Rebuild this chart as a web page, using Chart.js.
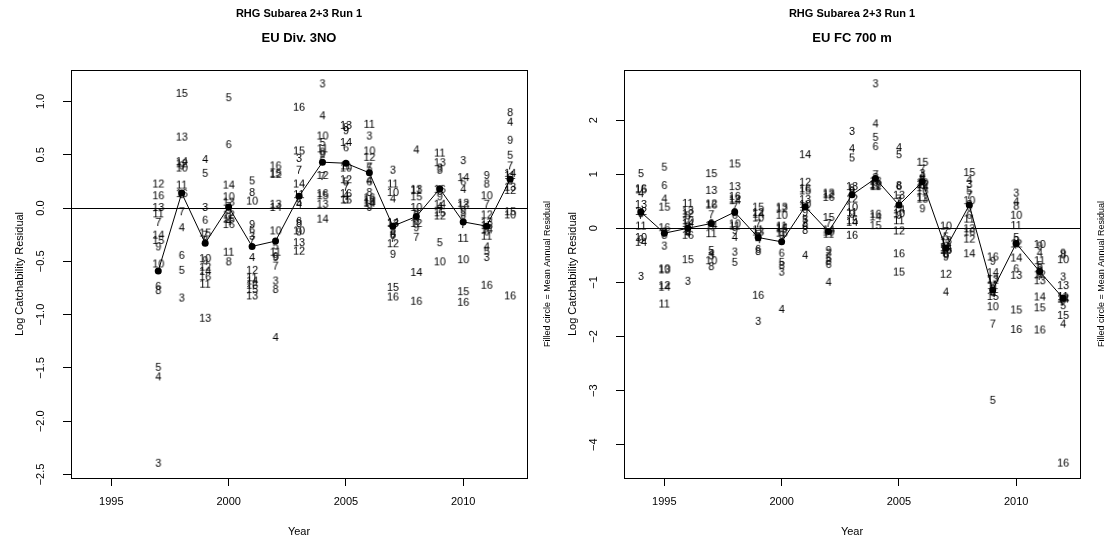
<!DOCTYPE html>
<html>
<head>
<meta charset="utf-8">
<script src="https://cdn.jsdelivr.net/npm/chart.js@4.4.1/dist/chart.umd.min.js"></script>
<style>
html, body { margin: 0; padding: 0; background: #fff; }
canvas { position: absolute; top: 0; }
#c1 { left: 0; }
#c2 { left: 553px; }
</style>
</head>
<body>
<canvas id="c1" width="553" height="545"></canvas>
<canvas id="c2" width="554" height="545"></canvas>
<script>
// ---- EU Div. 3NO ----
var years3NO = [1997, 1998, 1999, 2000, 2001, 2002, 2003, 2004, 2005, 2006, 2007, 2008, 2009, 2010, 2011, 2012];
var mean3NO  = [-0.59, 0.14, -0.33, 0.01, -0.36, -0.31, 0.11, 0.43, 0.42, 0.33, -0.17, -0.08, 0.18, -0.13, -0.17, 0.27];
// [age, residual] per year, same order as years3NO
var resid3NO = [
    [[12,0.23],[16,0.12],[13,0.01],[11,-0.05],[7,-0.13],[14,-0.25],[15,-0.30],[9,-0.36],[10,-0.52],[6,-0.73],[8,-0.77],[5,-1.49],[4,-1.58],[3,-2.39]],
    [[15,1.08],[13,0.67],[14,0.44],[12,0.42],[9,0.40],[10,0.38],[11,0.22],[16,0.14],[8,0.13],[7,-0.03],[4,-0.18],[6,-0.44],[5,-0.58],[3,-0.84]],
    [[4,0.46],[5,0.33],[3,0.01],[6,-0.11],[15,-0.23],[7,-0.25],[8,-0.30],[10,-0.47],[9,-0.49],[12,-0.55],[14,-0.59],[16,-0.64],[11,-0.71],[13,-1.03]],
    [[5,1.04],[6,0.60],[14,0.22],[10,0.11],[13,0.06],[7,0.02],[9,-0.02],[12,-0.06],[3,-0.08],[15,-0.10],[4,-0.12],[16,-0.15],[11,-0.41],[8,-0.50]],
    [[5,0.26],[8,0.15],[10,0.07],[9,-0.15],[6,-0.20],[3,-0.26],[7,-0.30],[4,-0.46],[12,-0.58],[11,-0.65],[14,-0.68],[16,-0.72],[15,-0.76],[13,-0.82]],
    [[16,0.40],[15,0.33],[12,0.32],[13,0.04],[14,0.01],[10,-0.21],[5,-0.35],[11,-0.41],[6,-0.45],[9,-0.46],[7,-0.54],[3,-0.68],[8,-0.76],[4,-1.21]],
    [[16,0.95],[15,0.54],[3,0.47],[7,0.36],[14,0.23],[11,0.13],[5,0.06],[4,0.04],[6,-0.12],[8,-0.14],[10,-0.21],[9,-0.22],[13,-0.32],[12,-0.40]],
    [[3,1.17],[4,0.87],[10,0.68],[5,0.62],[11,0.56],[8,0.53],[9,0.51],[6,0.45],[12,0.31],[7,0.30],[16,0.14],[15,0.12],[13,0.04],[14,-0.10]],
    [[13,0.78],[8,0.76],[9,0.73],[14,0.62],[6,0.57],[11,0.40],[10,0.38],[12,0.27],[5,0.25],[7,0.20],[16,0.14],[4,0.12],[3,0.08],[15,0.08]],
    [[11,0.79],[3,0.68],[10,0.54],[12,0.48],[7,0.39],[5,0.38],[4,0.26],[6,0.25],[8,0.15],[16,0.10],[13,0.08],[15,0.06],[14,0.05],[9,0.01]],
    [[3,0.36],[11,0.23],[10,0.15],[4,0.09],[14,-0.13],[13,-0.14],[5,-0.20],[6,-0.24],[8,-0.25],[7,-0.28],[12,-0.33],[9,-0.43],[15,-0.74],[16,-0.83]],
    [[4,0.55],[13,0.18],[11,0.17],[15,0.11],[10,0.01],[8,-0.04],[3,-0.06],[5,-0.10],[6,-0.12],[12,-0.14],[9,-0.18],[7,-0.27],[14,-0.60],[16,-0.87]],
    [[11,0.52],[13,0.43],[8,0.38],[3,0.36],[16,0.18],[6,0.16],[9,0.11],[14,0.04],[4,0.02],[7,-0.01],[15,-0.04],[12,-0.07],[5,-0.32],[10,-0.50]],
    [[3,0.45],[14,0.29],[6,0.25],[4,0.18],[12,0.05],[13,0.03],[9,-0.02],[5,-0.04],[8,-0.10],[7,-0.15],[11,-0.28],[10,-0.48],[15,-0.78],[16,-0.88]],
    [[9,0.31],[8,0.23],[10,0.12],[7,0.04],[12,-0.06],[13,-0.13],[15,-0.16],[14,-0.20],[6,-0.22],[11,-0.26],[4,-0.36],[5,-0.40],[3,-0.46],[16,-0.72]],
    [[8,0.90],[4,0.81],[9,0.64],[5,0.50],[7,0.40],[14,0.33],[11,0.31],[6,0.29],[3,0.26],[13,0.20],[12,0.17],[15,-0.03],[10,-0.06],[16,-0.82]]
];

// ---- EU FC 700 m ----
var yearsFC = [1994, 1995, 1996, 1997, 1998, 1999, 2000, 2001, 2002, 2003, 2004, 2005, 2006, 2007, 2008, 2009, 2010, 2011, 2012];
var meanFC  = [0.30, -0.09, 0.00, 0.09, 0.30, -0.17, -0.25, 0.40, -0.06, 0.62, 0.92, 0.43, 0.86, -0.37, 0.43, -1.14, -0.28, -0.80, -1.29];
var residFC = [
    [[5,1.02],[16,0.74],[15,0.72],[4,0.65],[13,0.45],[12,0.32],[6,0.30],[8,0.28],[7,0.25],[11,0.05],[10,-0.16],[9,-0.20],[14,-0.25],[3,-0.88]],
    [[5,1.14],[6,0.80],[4,0.55],[15,0.40],[16,0.02],[9,-0.06],[7,-0.08],[8,-0.12],[3,-0.32],[10,-0.74],[13,-0.76],[12,-1.05],[14,-1.08],[11,-1.39]],
    [[11,0.47],[13,0.33],[12,0.28],[5,0.24],[10,0.15],[14,0.10],[9,0.05],[7,0.02],[8,-0.03],[6,-0.06],[4,-0.09],[16,-0.12],[15,-0.57],[3,-0.97]],
    [[15,1.02],[13,0.71],[12,0.46],[16,0.44],[7,0.26],[6,0.10],[14,0.06],[9,0.05],[11,-0.09],[5,-0.40],[4,-0.46],[3,-0.50],[10,-0.59],[8,-0.70]],
    [[15,1.20],[13,0.78],[16,0.60],[12,0.55],[14,0.52],[7,0.40],[8,0.30],[6,0.25],[10,0.09],[11,0.05],[9,-0.03],[4,-0.16],[3,-0.43],[5,-0.62]],
    [[15,0.40],[12,0.30],[14,0.27],[10,0.20],[7,0.09],[11,-0.02],[13,-0.06],[5,-0.10],[9,-0.15],[4,-0.20],[6,-0.38],[8,-0.42],[16,-1.23],[3,-1.71]],
    [[13,0.40],[12,0.37],[10,0.25],[11,0.05],[14,0.02],[15,0.00],[16,-0.08],[9,-0.12],[7,-0.20],[6,-0.45],[5,-0.62],[8,-0.68],[3,-0.80],[4,-1.49]],
    [[14,1.37],[12,0.86],[16,0.74],[15,0.70],[13,0.54],[10,0.45],[11,0.40],[9,0.30],[5,0.17],[7,0.15],[3,0.10],[6,0.05],[8,-0.03],[4,-0.49]],
    [[13,0.66],[12,0.63],[16,0.58],[15,0.21],[7,0.10],[14,-0.02],[10,-0.06],[11,-0.10],[9,-0.40],[3,-0.45],[5,-0.55],[8,-0.60],[6,-0.66],[4,-0.99]],
    [[3,1.80],[4,1.48],[5,1.31],[13,0.78],[8,0.75],[6,0.70],[7,0.65],[12,0.55],[10,0.40],[11,0.30],[9,0.27],[15,0.15],[14,0.12],[16,-0.12]],
    [[3,2.68],[4,1.94],[5,1.69],[6,1.52],[7,1.00],[8,0.95],[13,0.88],[9,0.85],[10,0.82],[12,0.80],[11,0.78],[16,0.27],[14,0.22],[15,0.06]],
    [[4,1.50],[5,1.37],[8,0.80],[6,0.78],[13,0.62],[7,0.55],[3,0.50],[14,0.35],[10,0.28],[9,0.25],[11,0.15],[12,-0.04],[16,-0.46],[15,-0.80]],
    [[15,1.23],[7,1.10],[3,1.02],[4,0.98],[8,0.92],[5,0.90],[10,0.85],[12,0.82],[6,0.80],[14,0.76],[16,0.70],[11,0.58],[13,0.55],[9,0.37]],
    [[10,0.05],[7,-0.05],[5,-0.15],[13,-0.22],[11,-0.25],[3,-0.32],[14,-0.35],[15,-0.38],[16,-0.40],[8,-0.46],[6,-0.48],[9,-0.52],[12,-0.84],[4,-1.17]],
    [[15,1.04],[4,0.90],[3,0.82],[5,0.70],[7,0.62],[10,0.52],[8,0.45],[9,0.40],[6,0.25],[11,0.18],[13,0.00],[16,-0.06],[12,-0.19],[14,-0.46]],
    [[16,-0.52],[9,-0.60],[14,-0.81],[13,-0.93],[12,-0.95],[11,-1.05],[3,-1.10],[8,-1.12],[6,-1.18],[4,-1.20],[15,-1.25],[10,-1.44],[7,-1.76],[5,-3.17]],
    [[3,0.66],[4,0.50],[8,0.42],[10,0.25],[11,0.06],[5,-0.16],[9,-0.22],[12,-0.28],[7,-0.30],[14,-0.54],[6,-0.74],[13,-0.86],[15,-1.50],[16,-1.86]],
    [[10,-0.29],[9,-0.32],[4,-0.45],[11,-0.59],[5,-0.68],[6,-0.72],[8,-0.78],[3,-0.82],[12,-0.85],[7,-0.88],[13,-0.96],[14,-1.26],[15,-1.46],[16,-1.87]],
    [[9,-0.45],[8,-0.48],[10,-0.57],[3,-0.89],[13,-1.05],[11,-1.25],[12,-1.28],[14,-1.30],[6,-1.32],[7,-1.35],[5,-1.42],[15,-1.60],[4,-1.76],[16,-4.33]]
];

var yearTicks   = [1995, 2000, 2005, 2010];
var yTicks3NO   = [1.0, 0.5, 0.0, -0.5, -1.0, -1.5, -2.0, -2.5];
var yTicksFC    = [2, 1, 0, -1, -2, -3, -4];
var mainTitle   = 'RHG Subarea 2+3 Run 1';

var FONT = '"Liberation Sans", Arial, Helvetica, sans-serif';

// age numbers are drawn as point images
var ageImgs = {};
function ageImage(age) {
    if (ageImgs[age]) return ageImgs[age];
    var c = document.createElement('canvas');
    var g = c.getContext('2d');
    g.font = '11px ' + FONT;
    var w = Math.ceil(g.measureText(String(age)).width) + 2;
    if (w % 2) w++;
    c.width = w;
    c.height = 12;
    g.font = '11px ' + FONT;
    g.fillStyle = '#000';
    g.textAlign = 'center';
    g.textBaseline = 'middle';
    g.fillText(String(age), w / 2, 6.5);
    ageImgs[age] = c;
    return c;
}

function rStyle(subTitle, yFmt) {
    return {
        id: 'rStyle',
        beforeDatasetsDraw: function(chart) {
            var ctx = chart.ctx, a = chart.chartArea;
            var y0 = Math.round(chart.scales.y.getPixelForValue(0)) + 0.5;
            ctx.save();
            ctx.strokeStyle = '#000';
            ctx.lineWidth = 1;
            ctx.beginPath();
            ctx.moveTo(a.left, y0);
            ctx.lineTo(a.right, y0);
            ctx.stroke();
            ctx.restore();
        },
        afterDraw: function(chart) {
            var ctx = chart.ctx, a = chart.chartArea, ys = chart.scales.y;
            var cx = (a.left + a.right) / 2;
            var cy = (a.top + a.bottom) / 2;
            ctx.save();
            ctx.strokeStyle = '#000';
            ctx.lineWidth = 1;
            ctx.strokeRect(Math.round(a.left) + 0.5, Math.round(a.top) + 0.5,
                           Math.round(a.right - a.left), Math.round(a.bottom - a.top));

            ctx.fillStyle = '#000';
            ctx.textAlign = 'center';
            ctx.textBaseline = 'middle';
            ctx.font = 'bold 11px ' + FONT;
            ctx.fillText(mainTitle, cx, 14);
            ctx.font = 'bold 13px ' + FONT;
            ctx.fillText(subTitle, cx, 38);

            ctx.font = '11px ' + FONT;
            ctx.fillText('Year', cx, 532);

            // rotated y tick labels
            ys.ticks.forEach(function(t) {
                ctx.save();
                ctx.translate(41, ys.getPixelForValue(t.value));
                ctx.rotate(-Math.PI / 2);
                ctx.fillText(yFmt(t.value), 0, 0);
                ctx.restore();
            });

            ctx.save();
            ctx.translate(20, cy);
            ctx.rotate(-Math.PI / 2);
            ctx.fillText('Log Catchability Residual', 0, 0);
            ctx.restore();

            ctx.save();
            ctx.font = '9px ' + FONT;
            ctx.translate(chart.width - 5, cy);
            ctx.rotate(-Math.PI / 2);
            ctx.fillText('Filled circle = Mean Annual Residual', 0, 0);
            ctx.restore();
            ctx.restore();
        }
    };
}

function makePanel(canvasId, subTitle, years, means, resid, yTicks, yMin, yMax, yFmt) {
    var canvas = document.getElementById(canvasId);
    var pts = [];
    for (var i = 0; i < years.length; i++) {
        for (var j = 0; j < resid[i].length; j++) {
            pts.push({ x: years[i], y: resid[i][j][1], age: resid[i][j][0] });
        }
    }
    var meanPts = [];
    for (var k = 0; k < years.length; k++) meanPts.push({ x: years[k], y: means[k] });

    var tickGrid = { display: true, drawOnChartArea: false, drawTicks: true, tickLength: 8, color: '#000', lineWidth: 1 };

    new Chart(canvas, {
        type: 'scatter',
        data: {
            datasets: [{
                label: 'Mean',
                data: meanPts,
                showLine: true,
                borderColor: '#000',
                borderWidth: 1,
                pointRadius: 3.5,
                pointBackgroundColor: '#000',
                pointBorderWidth: 0,
                tension: 0
            }, {
                label: 'Ages',
                data: pts,
                pointRadius: 3,
                pointStyle: function(c) { return ageImage(c.raw.age); }
            }]
        },
        options: {
            responsive: false,
            animation: false,
            events: [],
            layout: { padding: { left: 0, top: 70, right: canvas.width - 527, bottom: 0 } },
            plugins: { legend: { display: false }, tooltip: { enabled: false } },
            scales: {
                x: {
                    type: 'linear',
                    min: 1993.28,
                    max: 2012.72,
                    afterBuildTicks: function(s) { s.ticks = yearTicks.map(function(v) { return { value: v }; }); },
                    afterFit: function(s) { s.height = 67; },
                    grid: tickGrid,
                    border: { display: false },
                    ticks: {
                        color: '#000',
                        font: { family: FONT, size: 11 },
                        padding: 9,
                        maxRotation: 0,
                        callback: function(v) { return String(v); }
                    }
                },
                y: {
                    type: 'linear',
                    min: yMin,
                    max: yMax,
                    afterBuildTicks: function(s) { s.ticks = yTicks.map(function(v) { return { value: v }; }); },
                    afterFit: function(s) { s.width = 71; },
                    grid: tickGrid,
                    border: { display: false },
                    ticks: { display: false }
                }
            }
        },
        plugins: [rStyle(subTitle, yFmt)]
    });
}

makePanel('c1', 'EU Div. 3NO', years3NO, mean3NO, resid3NO, yTicks3NO, -2.533, 1.295,
          function(v) { return v.toFixed(1).replace('-', '\u2212'); });
makePanel('c2', 'EU FC 700 m', yearsFC, meanFC, residFC, yTicksFC, -4.615, 2.926,
          function(v) { return String(v).replace('-', '\u2212'); });
</script>
</body>
</html>
